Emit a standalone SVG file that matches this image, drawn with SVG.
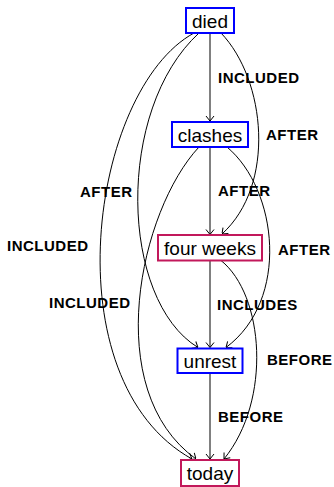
<svg xmlns="http://www.w3.org/2000/svg" width="334" height="487" viewBox="0 0 334 487">
<style>
.bg{fill:#ffffff}
.node rect{fill:#ffffff;stroke-width:2}
.blue rect{stroke:#0000ff}
.red rect{stroke:#c2185b}
.node text{font-family:"Liberation Sans",Arial,sans-serif;font-size:19px;fill:#000;text-anchor:middle}
.edge path{fill:none}
.straight{stroke:#808080;stroke-width:2}
.curve{stroke:#000;stroke-width:1}
.lbl{font-family:"Liberation Sans",Arial,sans-serif;font-size:15px;font-weight:bold;letter-spacing:0.5px;fill:#000}
</style>
<defs>
<marker id="arr" viewBox="0 0 10 10" refX="10" refY="5" markerWidth="10" markerHeight="10" markerUnits="userSpaceOnUse" orient="auto">
<path d="M5,1 L10,5 L5,9" fill="none" stroke="#000" stroke-width="1"/>
</marker>
</defs>
<rect class="bg" x="0" y="0" width="334" height="487"/>
<g id="edges">
<g class="edge" id="e-died-clashes"><path class="straight" d="M210,33 L210,121" marker-end="url(#arr)"/><text class="lbl" x="218" y="83">INCLUDED</text></g>
<g class="edge" id="e-died-fourweeks"><path class="curve" d="M221,33 C266,80 276,185 222,234" marker-end="url(#arr)"/><text class="lbl" x="266" y="140">AFTER</text></g>
<g class="edge" id="e-clashes-fourweeks"><path class="straight" d="M210,147 L210,234.5" marker-end="url(#arr)"/><text class="lbl" x="218" y="196">AFTER</text></g>
<g class="edge" id="e-clashes-unrest"><path class="curve" d="M227,147 C278,190 290,300 226,347.5" marker-end="url(#arr)"/><text class="lbl" x="278" y="254.5">AFTER</text></g>
<g class="edge" id="e-fourweeks-unrest"><path class="straight" d="M210,260.5 L210,347.5" marker-end="url(#arr)"/><text class="lbl" x="217" y="310">INCLUDES</text></g>
<g class="edge" id="e-fourweeks-today"><path class="curve" d="M221,260.5 C264,295 272,400 224,459" marker-end="url(#arr)"/><text class="lbl" x="267" y="365">BEFORE</text></g>
<g class="edge" id="e-unrest-today"><path class="straight" d="M210,373.5 L210,459" marker-end="url(#arr)"/><text class="lbl" x="218" y="422">BEFORE</text></g>
<g class="edge" id="e-died-unrest"><path class="curve" d="M199,33 C115,110 120,300 198,347.5" marker-end="url(#arr)"/><text class="lbl" x="80" y="197">AFTER</text></g>
<g class="edge" id="e-died-today"><path class="curve" d="M194,33 C90,90 50,380 192,459" marker-end="url(#arr)"/><text class="lbl" x="7" y="251">INCLUDED</text></g>
<g class="edge" id="e-clashes-today"><path class="curve" d="M199,147 C140,210 100,390 196,459" marker-end="url(#arr)"/><text class="lbl" x="49" y="308">INCLUDED</text></g>
</g>
<g id="n-died" class="node blue"><rect x="186" y="8" width="48" height="25"/><text x="210" y="27.5">died</text></g>
<g id="n-clashes" class="node blue"><rect x="172" y="122" width="76" height="25"/><text x="210" y="141.5">clashes</text></g>
<g id="n-fourweeks" class="node red"><rect x="158" y="235" width="104" height="25.5"/><text x="210" y="255">four weeks</text></g>
<g id="n-unrest" class="node blue"><rect x="177.5" y="348.5" width="65" height="24.5"/><text x="210" y="368">unrest</text></g>
<g id="n-today" class="node red"><rect x="181" y="460" width="58" height="26"/><text x="210" y="479.5">today</text></g>
</svg>
